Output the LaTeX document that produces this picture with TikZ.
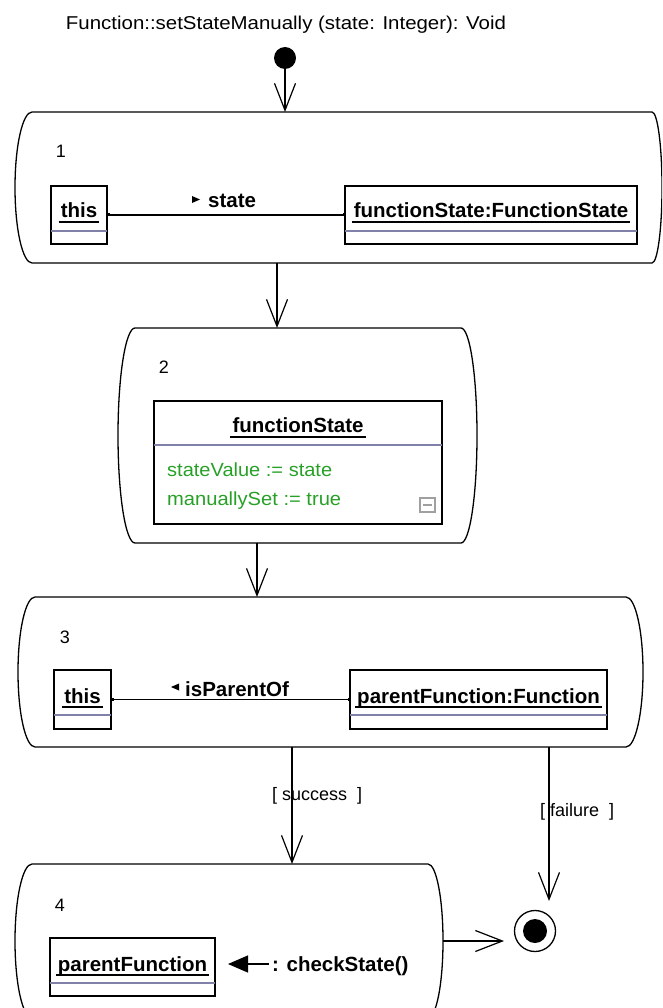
\documentclass[tikz,border=0pt]{standalone}
\usepackage{fontspec}
\setmainfont{Liberation Sans}
\usepackage{graphicx}
\usetikzlibrary{arrows.meta,calc}
\definecolor{sepblue}{RGB}{128,128,168}
\definecolor{assigngreen}{RGB}{40,160,40}
\definecolor{icongray}{RGB}{160,160,160}
\newcommand\fitw[2]{\resizebox{#1}{\height}{#2}}
\newcommand\regfont{\fontsize{18pt}{20pt}\selectfont}
\newcommand\boldfont{\fontsize{20.5pt}{23pt}\selectfont\bfseries}
\newcommand\actoutline[4]{%
  \draw[actline] ([xshift=#2]#1.north west) -- ([xshift=-#3]#1.north east)
    arc[start angle=90,end angle=-90,x radius=#3,y radius=#4]
    -- ([xshift=#2]#1.south west)
    arc[start angle=270,end angle=90,x radius=#2,y radius=#4] -- cycle;}
\begin{document}
\begin{tikzpicture}[x=1pt,y=-1pt,
  actbox/.style={rectangle, draw=none, inner sep=0pt, outer sep=0pt},
  actline/.style={line width=1.3pt, black},
  objbox/.style={rectangle, draw, line width=1.4pt, inner sep=0pt, outer sep=0pt},
  objtext/.style={inner sep=0pt, font=\boldfont, anchor=base},
  regtext/.style={inner sep=0pt, font=\regfont, anchor=base},
  flow/.style={line width=1.2pt, -{Straight Barb[length=27pt,width=21pt,line width=1.2pt]}},
  sepline/.style={sepblue, line width=1.2pt},
  uline/.style={line width=1.3pt},
  assoc/.style={line width=1.3pt, {Square[length=2.5pt,width=3pt]}-{Square[length=2.5pt,width=3pt]}},
  msgarrow/.style={line width=1.3pt, -{Triangle[length=20pt,width=17pt]}}]
\useasboundingbox (0,0) rectangle (662,1008);
\clip (0,0) rectangle (662,1008);

% title and initial node
\node[regtext, font=\fontsize{18.6pt}{21pt}\selectfont] (title) at (286,30)
  {\fitw{440pt}{Function::setStateManually (state: Integer): Void}};
\node[circle, fill=black, minimum size=22pt, inner sep=0pt] (init) at (285,58) {};

% action boxes
\node[actbox, minimum width=647pt, minimum height=151pt] (a1) at (338.5,187.5) {};
\actoutline{a1}{17pt}{10pt}{75.5pt}
\node[actbox, minimum width=359pt, minimum height=215pt] (a2) at (297.5,435.5) {};
\actoutline{a2}{17pt}{16pt}{107.5pt}
\node[actbox, minimum width=625pt, minimum height=150pt] (a3) at (330.5,672) {};
\actoutline{a3}{17pt}{17pt}{75pt}
\node[actbox, minimum width=428pt, minimum height=154pt] (a4) at (229,941) {};
\actoutline{a4}{17pt}{15pt}{77pt}

% numbers
\node[regtext] (n1) at (61,158) {1};
\node[regtext] (n2) at (164,373) {2};
\node[regtext] (n3) at (65,643) {3};
\node[regtext] (n4) at (60,911) {4};

% box 1 objects
\node[objbox, minimum width=56pt, minimum height=58pt] (o1) at (79,215) {};
\node[objtext] (o1t) at (79,218) {this};
\draw[uline] ($(o1t.base west)+(-2,4)$) -- ($(o1t.base east)+(2,4)$);
\draw[sepline] ($(o1.north west)+(0,45)$) -- ($(o1.north east)+(0,45)$);
\node[objbox, minimum width=292pt, minimum height=58pt] (o2) at (491,215) {};
\node[objtext] (o2t) at (491,218) {functionState:FunctionState};
\draw[uline] ($(o2t.base west)+(-2,4)$) -- ($(o2t.base east)+(2,4)$);
\draw[sepline] ($(o2.north west)+(0,45)$) -- ($(o2.north east)+(0,45)$);
\draw[assoc] (o1.east) -- (o2.west);
\node[objtext, anchor=base west] (l1) at (208,208) {state};
\fill (192,196) -- (200,199.5) -- (192,203) -- cycle;

% box 2 object
\node[objbox, minimum width=288pt, minimum height=123pt] (o3) at (298,462.5) {};
\node[objtext] (o3t) at (298,432) {functionState};
\draw[uline] ($(o3t.base west)+(-2,5)$) -- ($(o3t.base east)+(2,5)$);
\draw[sepline] ($(o3.north west)+(0,44)$) -- ($(o3.north east)+(0,44)$);
\node[regtext, anchor=base west, text=assigngreen, font=\fontsize{19pt}{21pt}\selectfont] (g1) at (167,476) {\fitw{165pt}{stateValue := state}};
\node[regtext, anchor=base west, text=assigngreen, font=\fontsize{19pt}{21pt}\selectfont] (g2) at (167,505) {\fitw{174pt}{manuallySet := true}};
\draw[icongray, line width=1.2pt] (420,498) rectangle (435,512);
\draw[icongray, line width=1.2pt] (423,505) -- (432,505);

% box 3 objects
\node[objbox, minimum width=57pt, minimum height=59pt] (o4) at (82.5,699.5) {};
\node[objtext] (o4t) at (82.5,703) {this};
\draw[uline] ($(o4t.base west)+(-2,4)$) -- ($(o4t.base east)+(2,4)$);
\draw[sepline] ($(o4.north west)+(0,45)$) -- ($(o4.north east)+(0,45)$);
\node[objbox, minimum width=257pt, minimum height=59pt] (o5) at (478.5,699.5) {};
\node[objtext] (o5t) at (478.5,703) {parentFunction:Function};
\draw[uline] ($(o5t.base west)+(-2,4)$) -- ($(o5t.base east)+(2,4)$);
\draw[sepline] ($(o5.north west)+(0,45)$) -- ($(o5.north east)+(0,45)$);
\draw[assoc] (o4.east) -- (o5.west);
\node[objtext, anchor=base west] (l3) at (185,696) {isParentOf};
\fill (179,683.5) -- (171,687) -- (179,690.5) -- cycle;

% box 4 object and message
\node[objbox, minimum width=165pt, minimum height=58pt] (o6) at (132.5,967) {};
\node[objtext] (o6t) at (132.5,971) {parentFunction};
\draw[uline] ($(o6t.base west)+(-2,4)$) -- ($(o6t.base east)+(2,4)$);
\draw[sepline] ($(o6.north west)+(0,45)$) -- ($(o6.north east)+(0,45)$);
\node[objtext, anchor=base west] (msg) at (272,971) {: checkState()};
\coordinate (msgstart) at (269,964);
\coordinate (msgtip) at (228,964);
\draw[msgarrow] (msgstart) -- (msgtip);

% final node
\node[circle, draw, line width=1.3pt, minimum size=41pt, inner sep=0pt] (fin) at (535,931) {};
\node[circle, fill=black, minimum size=24pt, inner sep=0pt] (finc) at (fin.center) {};

% flows
\coordinate (x12) at (277,0);
\coordinate (x34) at (292,0);
\coordinate (x23) at (257,0);
\coordinate (failtip) at (549,901);
\coordinate (fintip) at (504,941);
\draw[flow] (init) -- (init |- a1.north);
\draw[flow] (a1.south -| x12) -- (a2.north -| x12);
\draw[flow] (a2.south -| x23) -- (a3.north -| x23);
\draw[flow] (a3.south -| x34) -- (a4.north -| x34);
\draw[flow] (a3.south -| failtip) -- (failtip);
\draw[flow] (a4.east) -- (fintip);

% guards
\node[regtext, anchor=base west] (gs) at (272,800) {[ success\ \ ]};
\node[regtext, anchor=base west] (gf) at (540,816) {[ failure\ \ ]};
\end{tikzpicture}
\end{document}
